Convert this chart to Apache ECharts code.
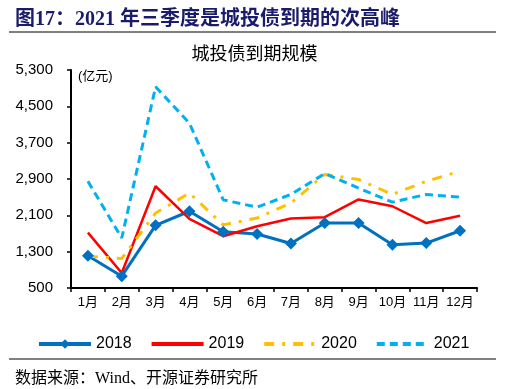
<!DOCTYPE html>
<html><head><meta charset="utf-8">
<script src="https://cdn.jsdelivr.net/npm/echarts@6/dist/echarts.min.js"></script>
<style>html,body{margin:0;padding:0;background:#fff}#c{width:509px;height:389px}</style>
</head><body><div id="c"></div>
<script>
const months = ['1月','2月','3月','4月','5月','6月','7月','8月','9月','10月','11月','12月'];
const s2018 = [1210, 760, 1880, 2190, 1740, 1690, 1480, 1930, 1930, 1450, 1490, 1760];
const s2019 = [1720, 830, 2740, 2020, 1640, 1860, 2030, 2060, 2450, 2300, 1930, 2090];
const s2020 = [1200, 1150, 2150, 2590, 1890, 2040, 2370, 3000, 2890, 2560, 2850, 3070];
const s2021 = [2850, 1600, 4930, 4130, 2440, 2280, 2560, 3020, 2700, 2390, 2560, 2500];
const yTicks = [500, 1300, 2100, 2900, 3700, 4500, 5300];

const chart = echarts.init(document.getElementById('c'));
const serif = '"Liberation Serif", "Noto Sans CJK SC", serif';
const sans = 'Arial, "Liberation Sans", "Noto Sans CJK SC", sans-serif';
chart.setOption({
  animation: false,
  title: [
    {text: '图17：2021 年三季度是城投债到期的次高峰', left: 10, top: 5,
     textStyle: {fontFamily: serif, fontSize: 20, fontWeight: 'bold', color: '#1B1B6B'}},
    {text: '城投债到期规模', left: 'center', top: 41,
     textStyle: {fontFamily: serif, fontSize: 18, fontWeight: 'normal', color: '#000'}},
    {text: '数据来源：Wind、开源证券研究所', left: 10, top: 366,
     textStyle: {fontFamily: serif, fontSize: 16, fontWeight: 'normal', color: '#000'}}
  ],
  graphic: [
    {type: 'line', shape: {x1: 9, y1: 32, x2: 496, y2: 32}, style: {stroke: '#000', lineWidth: 1}},
    {type: 'line', shape: {x1: 9, y1: 359, x2: 496, y2: 359}, style: {stroke: '#000', lineWidth: 1}},
    {type: 'text', left: 78, top: 70, style: {text: '(亿元)', font: '13px ' + sans, fill: '#000'}}
  ],
  grid: {left: 71, right: 32, top: 70, bottom: 101},
  legend: {
    left: 32, top: 331, itemWidth: 52, itemHeight: 12, itemGap: 18,
    textStyle: {fontFamily: sans, fontSize: 16, color: '#000'},
    data: [
      {name: '2018', itemStyle: {color: '#0070C0'}, lineStyle: {width: 4}, symbolSize: 8},
      {name: '2019', itemStyle: {opacity: 0}, lineStyle: {width: 4}},
      {name: '2020', itemStyle: {opacity: 0}, lineStyle: {width: 4}},
      {name: '2021', itemStyle: {opacity: 0}, lineStyle: {width: 4}}
    ]
  },
  xAxis: {
    type: 'category', data: months, boundaryGap: true,
    axisLine: {lineStyle: {color: '#000', width: 2}},
    axisTick: {show: true, length: 4, lineStyle: {color: '#000', width: 1.5}},
    axisLabel: {color: '#000', fontFamily: sans, fontSize: 13, margin: 8, interval: 0}
  },
  yAxis: {
    type: 'value', min: 500, max: 5300,
    splitLine: {show: false},
    axisLine: {show: true, lineStyle: {color: '#000', width: 2}},
    axisTick: {show: true, length: 4, customValues: yTicks, lineStyle: {color: '#000', width: 1.5}},
    axisLabel: {color: '#000', fontFamily: sans, fontSize: 15, margin: 18, customValues: yTicks,
      formatter: v => v.toLocaleString('en-US')}
  },
  series: [
    {name: '2018', type: 'line', data: s2018, symbol: 'diamond', symbolSize: 12,
     itemStyle: {color: '#0070C0'}, lineStyle: {color: '#0070C0', width: 3}},
    {name: '2019', type: 'line', data: s2019, symbol: 'none',
     itemStyle: {color: '#FF0000'}, lineStyle: {color: '#FF0000', width: 2.5}},
    {name: '2020', type: 'line', data: s2020, symbol: 'none',
     itemStyle: {color: '#FFC000'}, lineStyle: {color: '#FFC000', width: 3, type: [10, 8, 3, 8]}},
    {name: '2021', type: 'line', data: s2021, symbol: 'none',
     itemStyle: {color: '#00B0F0'}, lineStyle: {color: '#00B0F0', width: 3, type: [8, 5]}}
  ]
});
</script></body></html>
